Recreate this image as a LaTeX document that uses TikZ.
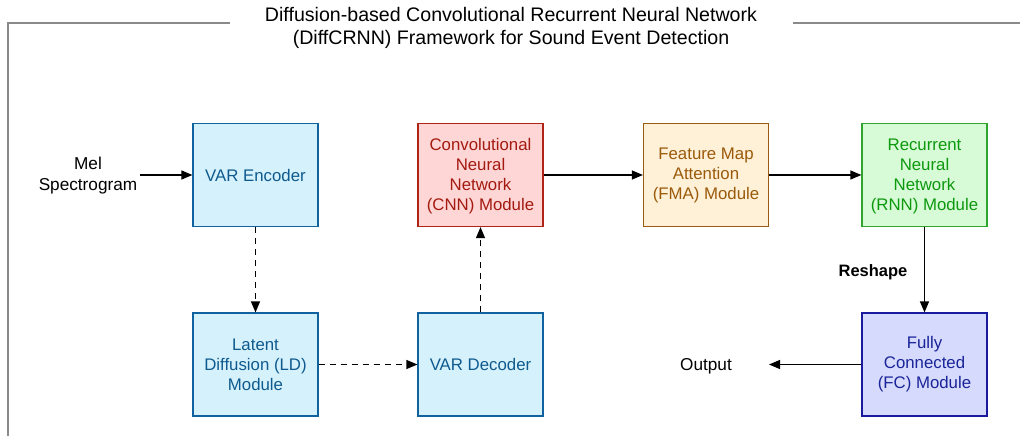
\documentclass[tikz,border=0pt]{standalone}
\usepackage{fontspec}
\setmainfont{Liberation Sans}
\usetikzlibrary{arrows.meta}
\definecolor{encfill}{HTML}{D5F1FC}
\definecolor{encline}{HTML}{10639E}
\definecolor{enctext}{HTML}{0E5A8E}
\definecolor{cnnfill}{HTML}{FFD6D6}
\definecolor{cnnline}{HTML}{B02418}
\definecolor{cnntext}{HTML}{A31A10}
\definecolor{fmafill}{HTML}{FFF0D8}
\definecolor{fmaline}{HTML}{9C5B14}
\definecolor{fmatext}{HTML}{9A5A0A}
\definecolor{rnnfill}{HTML}{D6FBD6}
\definecolor{rnnline}{HTML}{2EA52E}
\definecolor{rnntext}{HTML}{0E980E}
\definecolor{fcfill}{HTML}{D6DAFC}
\definecolor{fcline}{HTML}{1A1A9E}
\definecolor{fctext}{HTML}{1A2499}
\definecolor{framegray}{HTML}{8A8A8A}
\tikzset{
  module/.style={draw, line width=1.2pt, minimum width=125pt, minimum height=103pt, inner sep=0pt, align=center, font=\fontsize{16.8}{20}\selectfont},
  encbox/.style={module, fill=encfill, draw=encline, text=enctext},
  cnnbox/.style={module, fill=cnnfill, draw=cnnline, text=cnntext},
  fmabox/.style={module, fill=fmafill, draw=fmaline, text=fmatext},
  rnnbox/.style={module, fill=rnnfill, draw=rnnline, text=rnntext},
  fcbox/.style={module, fill=fcfill, draw=fcline, text=fctext},
  plain/.style={align=center, inner sep=0pt, font=\fontsize{17.2}{21}\selectfont},
  flow/.style={line width=1.2pt, -{Triangle[length=11pt,width=9pt]}},
  dflow/.style={flow, dash pattern=on 6pt off 5pt},
}
\begin{document}
\begin{tikzpicture}[x=1pt,y=-1pt]
\useasboundingbox (0,0) rectangle (1020,436);
% frame
\draw[framegray, line width=1.3pt] (230,23) -- (8,23) -- (8,437);
\draw[framegray, line width=1.3pt] (793,23) -- (1021,23);
\node[plain, font=\fontsize{19.6}{23}\selectfont] (title) at (511,27.5) {Diffusion-based Convolutional Recurrent Neural Network\\(DiffCRNN) Framework for Sound Event Detection};
% modules
\node[encbox] (enc) at (255.5,175) {VAR Encoder};
\node[cnnbox] (cnn) at (480.5,175) {\strut Convolutional\\Neural\\Network\\(CNN) Module};
\node[fmabox] (fma) at (706,175) {Feature Map\\Attention\\(FMA) Module};
\node[rnnbox] (rnn) at (924.5,175) {\strut Recurrent\\Neural\\Network\\(RNN) Module};
\node[encbox] (ld) at (255.5,364.5) {Latent\\Diffusion (LD)\\Module};
\node[encbox] (dec) at (480.5,364.5) {VAR Decoder};
\node[fcbox] (fc) at (924.5,364.5) {Fully\\Connected\\(FC) Module};
% texts
\node[plain] (mel) at (88,176) {Mel\\Spectrogram};
\node[plain] (out) at (706,366) {Output};
\coordinate (outtip) at (769,364.5);
\node[plain, font=\fontsize{16.5}{19}\selectfont\bfseries] (reshape) at (873,272) {Reshape};
% connectors
\draw[flow] (140,175) -- (enc.west);
\draw[dflow] (enc.south) -- (ld.north);
\draw[dflow] (ld.east) -- (dec.west);
\draw[dflow] (dec.north) -- (cnn.south);
\draw[flow] (cnn.east) -- (fma.west);
\draw[flow] (fma.east) -- (rnn.west);
\draw[flow] (rnn.south) -- (fc.north);
\draw[flow] (fc.west) -- (outtip);
\end{tikzpicture}
\end{document}
